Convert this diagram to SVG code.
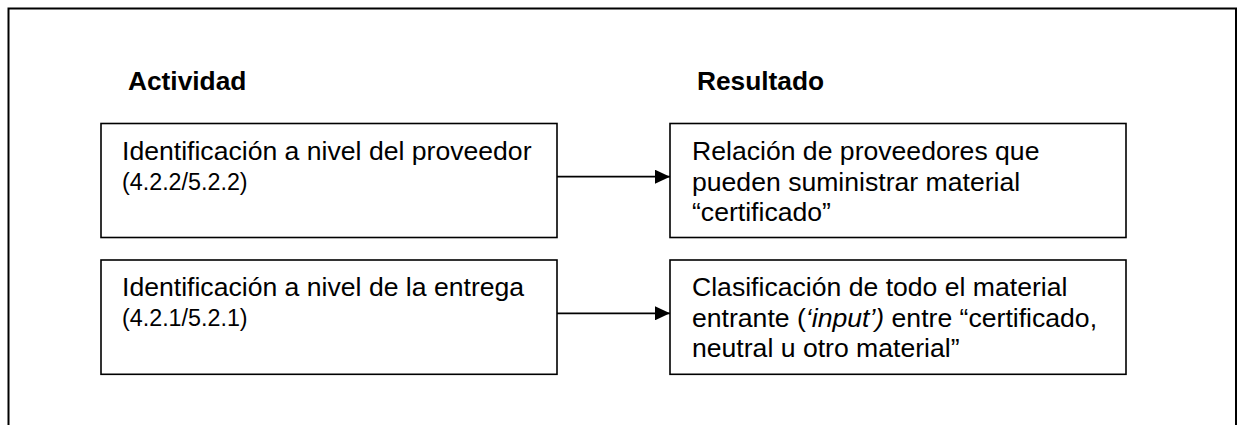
<svg xmlns="http://www.w3.org/2000/svg" width="1241" height="425" viewBox="0 0 1241 425">
<style>
  .frame { fill: none; stroke: #000; stroke-width: 2; }
  .box { fill: #fff; stroke: #000; stroke-width: 1.6; }
  .head { font-family: "Liberation Sans", Arial, sans-serif; font-weight: bold; font-size: 26.3px; fill: #000; }
  .t { font-family: "Liberation Sans", Arial, sans-serif; font-size: 26.6px; fill: #000; }
  .s { font-family: "Liberation Sans", Arial, sans-serif; font-size: 23.3px; fill: #000; }
  .conn { stroke: #000; stroke-width: 1.8; fill: none; }
</style>
<defs>
  <marker id="arrow" markerWidth="15" markerHeight="14" refX="15" refY="7" orient="auto" markerUnits="userSpaceOnUse">
    <path d="M0,0 L15,7 L0,14 Z" fill="#000"/>
  </marker>
</defs>
<rect width="1241" height="425" fill="#fff"/>
<path class="frame" d="M8.5,440 V8.5 H1236 V440"/>
<text class="head" x="128" y="90">Actividad</text>
<text class="head" x="697" y="90">Resultado</text>
<g id="act1">
  <rect class="box" x="101" y="123.5" width="456" height="114"/>
  <text class="t" x="122" y="160">Identificación a nivel del proveedor</text>
  <text class="s" x="122" y="190">(4.2.2/5.2.2)</text>
</g>
<g id="act2">
  <rect class="box" x="101" y="260" width="456" height="114.3"/>
  <text class="t" x="122" y="296">Identificación a nivel de la entrega</text>
  <text class="s" x="122" y="326">(4.2.1/5.2.1)</text>
</g>
<g id="res1">
  <rect class="box" x="670" y="123.5" width="456" height="114"/>
  <text class="t" x="692" y="160">Relación de proveedores que</text>
  <text class="t" x="692" y="190.6">pueden suministrar material</text>
  <text class="t" x="692" y="221.2">“certificado”</text>
</g>
<g id="res2">
  <rect class="box" x="670" y="260" width="456" height="114.3"/>
  <text class="t" x="692" y="296">Clasificación de todo el material</text>
  <text class="t" x="692" y="326.6">entrante (<tspan font-style="italic">‘input’)</tspan> entre “certificado,</text>
  <text class="t" x="692" y="357.2">neutral u otro material”</text>
</g>
<g id="connectors">
  <line class="conn" x1="557" y1="176.7" x2="670" y2="176.7" marker-end="url(#arrow)"/>
  <line class="conn" x1="557" y1="313.3" x2="670" y2="313.3" marker-end="url(#arrow)"/>
</g>
</svg>
